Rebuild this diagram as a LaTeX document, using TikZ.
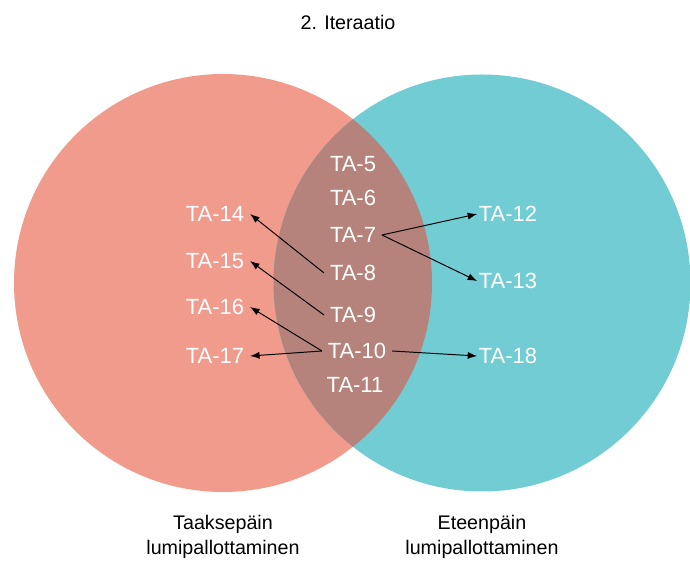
\documentclass[tikz,border=0pt]{standalone}
\usepackage{fontspec}
\setmainfont{Liberation Sans}
\usepackage{tikz}
\usetikzlibrary{arrows.meta}
\usetikzlibrary{positioning}

\definecolor{backcol}{RGB}{241,155,141}
\definecolor{forwcol}{RGB}{114,204,212}
\definecolor{bothcol}{RGB}{181,131,123}

\begin{document}
\begin{tikzpicture}[
  tag/.style={text=white, inner sep=3.2pt, font=\fontsize{12.5}{15}\selectfont},
  caption/.style={text=black, align=center, font=\fontsize{11.2}{14.2}\selectfont},
  link/.style={line width=0.55pt, -{Latex[length=1.9mm,width=1.4mm]}}
]
\useasboundingbox (0,0) rectangle (13.8,11.26);

\fill [backcol] (4.46,5.6) circle (4.18);
\fill [forwcol] (9.64,5.6) circle (4.17);
\begin{scope}
  \clip (4.46,5.6) circle (4.18);
  \fill [bothcol] (9.64,5.6) circle (4.17);
\end{scope}

\node [caption] (title) at (6.96,10.82) {2. Iteraatio};
\node [caption] (backlabel) at (4.46,0.53) {Taaksepäin\\lumipallottaminen};
\node [caption] (forwlabel) at (9.64,0.53) {Eteenpäin\\lumipallottaminen};

% middle column
\foreach \n/\x/\y in {5/7.06/7.98, 6/7.06/7.30, 7/7.06/6.56, 8/7.06/5.80,
                      9/7.06/4.96, 10/7.14/4.24, 11/7.10/3.56}
   \node [tag] (ta\n) at (\x,\y) {TA-\n};

% left side
\foreach \n/\y in {14/6.98, 15/6.04, 16/5.12, 17/4.14}
   \node [tag] (ta\n) at (4.30,\y) {TA-\n};

% right side
\foreach \n/\y in {12/6.98, 13/5.64, 18/4.14}
   \node [tag, inner xsep=0.8pt] (ta\n) at (10.16,\y) {TA-\n};

\draw [link] (ta8.west) -- (ta14.east);
\draw [link] (ta9.west) -- (ta15.east);
\draw [link] (ta10.west) -- (ta16.east);
\draw [link] (ta10.west) -- (ta17.east);
\draw [link] (ta7.east) -- (ta12.west);
\draw [link] (ta7.east) -- (ta13.west);
\draw [link] (ta10.east) -- (ta18.west);

\end{tikzpicture}
\end{document}
